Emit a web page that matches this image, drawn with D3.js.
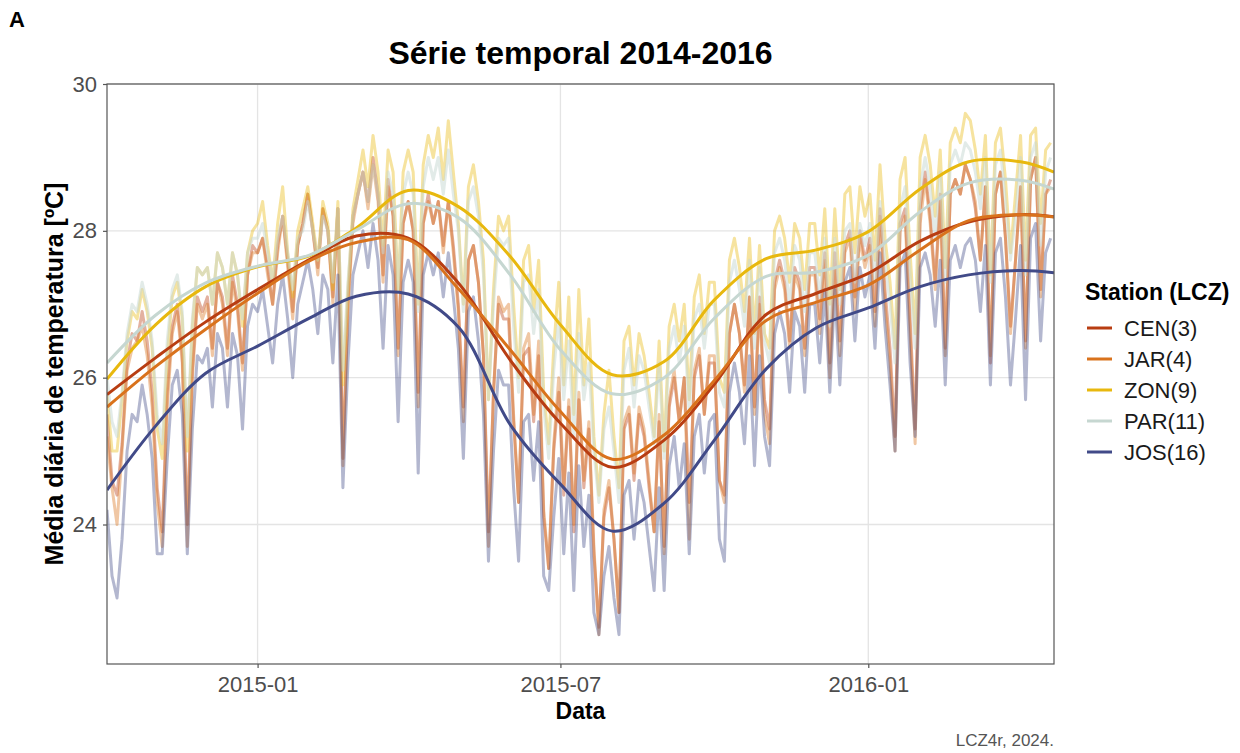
<!DOCTYPE html>
<html>
<head>
<meta charset="utf-8">
<script src="https://cdn.jsdelivr.net/npm/d3@7"></script>
<style>
  body { margin: 0; background: #fff; }
  svg text { font-family: "Liberation Sans", Arial, Helvetica, sans-serif; }
</style>
</head>
<body>
<svg id="chart" width="1240" height="753"></svg>
<script>
// stations, colours follow the legend order
const stations = ["CEN(3)", "JAR(4)", "ZON(9)", "PAR(11)", "JOS(16)"];
const colors = ["#b83d12", "#d9721c", "#e8b80e", "#c6d7d1", "#414a88"];

// daily means sampled every 3 days from 2014-10-03
const rawStart = "2014-10-03";
const rawStep = 3;
const cenRaw = [25.5,24.6,24.4,25.1,26.2,26.6,26.5,26.9,26.5,25.8,
  24.5,23.9,25.8,26.7,27.0,26.3,24.0,26.1,27.1,26.9,
  27.1,26.4,27.3,27.1,26.4,27.4,27.0,26.2,27.4,27.8,
  27.7,27.9,27.5,27.0,27.8,28.2,27.6,26.9,27.8,28.1,
  28.5,28.0,27.5,28.3,28.0,27.1,28.3,24.9,27.0,28.2,
  28.5,28.8,28.4,29.0,28.5,27.4,28.7,28.2,26.4,28.1,
  28.4,28.0,25.8,28.1,28.5,28.1,28.4,27.8,28.4,27.8,
  27.0,25.6,27.6,27.8,27.3,26.3,23.9,25.8,27.0,26.8,
  26.8,25.4,24.3,26.3,26.4,25.4,26.3,24.1,23.4,25.0,
  25.8,24.4,25.6,23.9,25.7,24.5,25.3,23.6,22.6,24.1,24.5,
  23.8,22.8,25.3,25.5,24.6,25.5,25.2,24.5,23.9,25.4,
  23.7,25.6,26.0,25.4,26.0,24.3,26.0,26.3,25.5,26.2,
  26.2,24.6,24.4,26.6,27.0,26.6,25.9,27.1,25.6,27.1,
  25.7,25.3,27.3,27.6,27.3,26.5,27.5,27.3,26.4,27.5,
  27.5,26.8,27.7,26.2,27.7,26.5,27.8,28.0,27.1,28.0,27.6,
  27.9,26.9,28.3,27.2,26.4,25.2,28.1,28.3,26.8,25.3,
  28.3,28.8,28.2,27.3,28.5,26.4,28.5,28.7,28.5,28.9,
  28.7,28.3,27.6,28.6,26.2,28.5,28.8,27.9,26.7,27.6,
  28.6,26.5,28.7,29.0,27.2,28.5,28.7];
const jarRaw = [25.2,24.5,24.0,25.0,26.1,26.4,26.5,26.7,26.3,25.6,
  24.3,23.7,25.6,26.6,26.9,26.2,23.7,26.0,27.0,26.8,
  27.0,26.3,27.3,27.0,26.3,27.3,26.9,26.1,27.4,27.7,
  27.7,27.9,27.4,27.0,27.7,28.2,27.5,26.8,27.8,28.1,
  28.5,28.0,27.4,28.3,28.0,27.0,28.3,24.8,26.9,28.1,
  28.5,28.8,28.3,28.9,28.4,27.3,28.6,28.2,26.3,28.1,
  28.4,28.0,25.6,28.1,28.4,28.1,28.4,27.7,28.4,27.7,
  26.9,25.4,27.6,27.8,27.3,26.3,23.7,25.8,27.1,26.9,
  27.0,25.5,24.3,26.4,26.6,25.5,26.5,24.2,23.4,25.1,
  26.0,24.5,25.7,24.0,25.8,24.6,25.4,23.7,22.5,24.2,24.6,
  23.8,22.8,25.4,25.6,24.7,25.6,25.3,24.6,23.9,25.5,
  23.6,25.7,26.1,25.4,26.0,23.8,26.1,26.4,25.5,26.3,
  26.3,24.6,24.3,26.6,27.0,26.6,25.8,27.1,25.5,27.0,
  25.5,25.1,27.2,27.5,27.2,26.4,27.4,27.2,26.3,27.4,
  27.4,26.6,27.6,26.0,27.5,26.3,27.7,27.9,26.9,27.9,27.5,
  27.8,26.7,28.2,27.0,26.2,25.0,28.0,28.2,26.6,25.1,
  28.1,28.7,28.1,27.2,28.4,26.3,28.5,28.7,28.5,28.9,
  28.7,28.4,27.6,28.6,26.3,28.5,28.8,27.9,26.6,27.6,
  28.6,26.4,28.7,29.0,27.1,28.5,28.6];
const zonRaw = [25.8,25.0,25.0,25.7,26.5,26.9,26.8,27.2,26.9,26.4,
  25.3,24.9,26.3,27.1,27.3,26.8,25.0,26.7,27.5,27.4,
  27.5,27.0,27.7,27.5,27.0,27.7,27.4,26.7,27.7,28.0,
  28.1,28.4,27.8,27.3,28.1,28.6,27.7,27.1,28.0,28.3,
  28.6,28.1,27.6,28.4,28.1,27.2,28.4,25.9,27.2,28.3,
  28.7,29.1,28.6,29.3,28.8,27.8,29.1,28.8,27.2,28.8,
  29.1,28.8,27.0,28.9,29.3,29.0,29.4,28.7,29.5,28.8,
  28.1,27.0,28.6,28.9,28.4,27.6,25.7,27.2,28.2,28.0,
  28.2,27.0,26.0,27.6,27.8,26.9,27.6,25.8,25.1,26.4,
  27.3,25.9,27.1,25.5,27.2,25.9,26.8,25.2,24.4,25.5,26.1,
  25.2,24.5,26.5,26.7,25.9,26.6,26.3,25.8,25.2,26.5,
  25.0,26.7,27.0,26.5,27.0,25.7,27.1,27.4,26.6,27.3,
  27.3,26.0,25.8,27.6,27.9,27.5,26.9,27.9,26.6,27.8,
  26.6,26.4,28.0,28.2,27.9,27.3,28.1,27.9,27.2,28.1,
  28.1,27.4,28.3,27.0,28.3,27.2,28.5,28.6,27.7,28.6,28.2,
  28.5,27.6,28.9,27.9,27.3,26.4,28.7,29.0,27.7,26.6,
  29.0,29.3,28.9,28.2,29.1,27.5,29.2,29.4,29.2,29.6,
  29.5,29.1,28.5,29.3,27.4,29.2,29.4,28.7,27.7,28.5,
  29.3,27.6,29.3,29.4,28.1,29.1,29.2];
const parRaw = [26.0,25.4,25.2,25.8,26.6,27.0,26.9,27.3,27.0,26.5,
  25.5,25.1,26.5,27.2,27.4,26.9,25.2,26.8,27.5,27.4,
  27.5,27.0,27.7,27.5,27.0,27.7,27.4,26.8,27.7,27.9,
  27.9,28.1,27.7,27.3,27.9,28.2,27.7,27.2,27.9,28.0,
  28.4,28.0,27.6,28.2,28.0,27.3,28.3,26.1,27.3,28.2,
  28.5,28.8,28.4,28.9,28.5,27.7,28.8,28.5,27.2,28.5,
  28.8,28.5,26.9,28.6,29.0,28.7,29.0,28.5,29.1,28.5,
  28.0,26.9,28.4,28.6,28.2,27.4,25.7,27.0,27.9,27.8,
  27.9,26.7,25.8,27.3,27.4,26.6,27.2,25.6,24.9,26.1,
  26.8,25.7,26.5,25.2,26.6,25.7,26.2,25.0,24.3,25.3,25.6,
  25.0,24.3,26.1,26.4,25.6,26.3,26.1,25.6,25.1,26.2,
  24.9,26.4,26.7,26.2,26.7,25.5,26.8,27.0,26.4,27.0,
  27.0,25.8,25.6,27.3,27.6,27.2,26.7,27.6,26.4,27.5,
  26.5,26.2,27.7,27.9,27.6,27.0,27.8,27.6,26.9,27.7,
  27.7,27.1,27.9,26.7,27.9,27.0,28.0,28.1,27.3,28.1,27.8,
  28.1,27.3,28.4,27.6,27.0,26.2,28.3,28.6,27.4,26.4,
  28.6,29.0,28.6,27.9,28.8,27.3,28.9,29.1,28.9,29.2,
  29.1,28.8,28.3,29.0,27.3,28.9,29.1,28.4,27.6,28.2,
  29.0,27.4,29.0,29.2,27.8,28.8,29.0];
const josRaw = [24.2,23.3,23.0,23.8,25.0,25.5,25.4,25.9,25.5,24.9,
  23.6,23.6,24.9,25.9,26.1,25.5,23.6,25.3,26.3,26.2,
  26.4,25.6,26.6,26.4,25.6,26.6,26.3,25.3,26.7,27.0,
  26.9,27.2,26.7,26.2,27.0,27.4,26.8,26.0,27.0,27.3,
  27.6,27.2,26.6,27.4,27.2,26.2,27.4,24.5,26.2,27.4,
  27.7,28.0,27.5,28.1,27.6,26.4,27.8,27.4,25.4,27.3,
  27.6,27.3,24.7,27.4,27.7,27.4,27.7,27.1,27.7,27.1,
  26.4,24.9,26.9,27.1,26.5,25.5,23.5,25.0,26.1,25.9,
  25.9,24.5,23.5,25.4,25.5,24.6,25.4,23.3,23.1,24.1,
  24.9,23.6,24.7,23.1,24.8,23.7,24.4,22.8,22.5,23.3,23.7,
  23.0,22.5,24.4,24.6,23.8,24.6,24.3,23.7,23.1,24.5,
  23.1,24.8,25.2,24.5,25.1,23.6,25.2,25.5,24.7,25.4,
  25.5,23.8,23.5,25.8,26.2,25.8,25.1,26.3,24.8,26.3,
  25.2,24.8,26.6,26.9,26.6,25.8,26.9,26.7,25.8,27.0,
  27.0,26.2,27.2,25.8,27.2,25.9,27.3,27.5,26.5,27.5,27.1,
  27.4,26.4,27.7,26.7,25.9,25.0,27.5,27.7,26.2,25.2,
  27.5,27.7,27.4,26.7,27.6,25.9,27.6,27.8,27.5,27.8,
  27.9,27.6,26.9,27.8,25.9,27.7,27.9,27.1,25.9,26.8,
  27.8,25.7,27.9,28.1,26.5,27.7,27.9];

// smoothed trend read at month starts
const smoothDates = ["2014-10-03","2014-11-01","2014-12-01","2015-01-01","2015-02-01","2015-03-01",
  "2015-04-01","2015-05-01","2015-06-01","2015-07-01","2015-08-01","2015-09-01","2015-10-01",
  "2015-11-01","2015-12-01","2016-01-01","2016-02-01","2016-03-01","2016-04-01","2016-04-21"];
const cenSmooth = [25.77,26.27,26.76,27.20,27.61,27.93,27.90,27.29,26.24,25.38,24.78,25.15,25.91,26.86,27.15,27.42,27.86,28.12,28.22,28.19];
const jarSmooth = [25.60,26.15,26.66,27.15,27.59,27.84,27.88,27.21,26.38,25.54,24.89,25.22,25.96,26.78,27.03,27.26,27.74,28.14,28.22,28.19];
const zonSmooth = [25.98,26.72,27.24,27.51,27.66,28.04,28.55,28.33,27.65,26.72,26.04,26.22,27.06,27.62,27.74,27.99,28.57,28.94,28.94,28.80];
const parSmooth = [26.20,26.85,27.29,27.52,27.67,28.01,28.37,28.18,27.40,26.38,25.78,26.00,26.81,27.38,27.44,27.67,28.26,28.65,28.69,28.57];
const josSmooth = [24.47,25.34,26.06,26.43,26.81,27.11,27.14,26.69,25.36,24.55,23.91,24.29,25.15,26.12,26.68,26.95,27.24,27.40,27.46,27.43];

const yTicks = [24, 26, 28, 30];
const xTicks = ["2015-01-01", "2015-07-01", "2016-01-01"];
const xDomain = ["2014-10-03", "2016-04-21"];
const yDomain = [22.1, 30];

const rawSeries = [cenRaw, jarRaw, zonRaw, parRaw, josRaw];
const smoothSeries = [cenSmooth, jarSmooth, zonSmooth, parSmooth, josSmooth];

const parse = d3.timeParse("%Y-%m-%d");
const svg = d3.select("#chart");
const margin = {top: 84, right: 186, bottom: 89, left: 107};
const W = 1240, H = 753;

const x = d3.scaleTime().domain(xDomain.map(parse)).range([margin.left, W - margin.right]);
const y = d3.scaleLinear().domain(yDomain).range([H - margin.bottom, margin.top]);

// clip
svg.append("clipPath").attr("id", "clip").append("rect")
  .attr("x", margin.left).attr("y", margin.top)
  .attr("width", W - margin.left - margin.right).attr("height", H - margin.top - margin.bottom);

// grid
const grid = svg.append("g");
grid.selectAll(".gy").data(yTicks).enter().append("line")
  .attr("x1", margin.left).attr("x2", W - margin.right)
  .attr("y1", d => y(d)).attr("y2", d => y(d))
  .attr("stroke", "#e4e4e4").attr("stroke-width", 1.3);
grid.selectAll(".gx").data(xTicks).enter().append("line")
  .attr("x1", d => x(parse(d))).attr("x2", d => x(parse(d)))
  .attr("y1", margin.top).attr("y2", H - margin.bottom)
  .attr("stroke", "#e4e4e4").attr("stroke-width", 1.3);

const plot = svg.append("g").attr("clip-path", "url(#clip)");
const start = parse(rawStart);

const rawLine = d3.line()
  .x((d, i) => x(d3.timeDay.offset(start, i * rawStep)))
  .y(d => y(d));

rawSeries.forEach((s, k) => {
  plot.append("path").datum(s)
    .attr("d", rawLine)
    .attr("fill", "none")
    .attr("stroke", colors[k])
    .attr("stroke-opacity", k == 3 ? 0.5 : 0.4)
    .attr("stroke-width", 3)
    .attr("stroke-linejoin", "round");
});

const smoothLine = d3.line()
  .curve(d3.curveCatmullRom.alpha(0.5))
  .x((d, i) => x(parse(smoothDates[i])))
  .y(d => y(d));

smoothSeries.forEach((s, k) => {
  plot.append("path").datum(s)
    .attr("d", smoothLine)
    .attr("fill", "none")
    .attr("stroke", colors[k])
    .attr("stroke-width", 3);
});

// panel border
svg.append("rect")
  .attr("x", margin.left).attr("y", margin.top)
  .attr("width", W - margin.left - margin.right).attr("height", H - margin.top - margin.bottom)
  .attr("fill", "none").attr("stroke", "#555").attr("stroke-width", 1.2);

// axes
const xAxis = svg.append("g")
  .attr("transform", "translate(0," + (H - margin.bottom) + ")")
  .call(d3.axisBottom(x).tickValues(xTicks.map(parse)).tickFormat(d3.timeFormat("%Y-%m")).tickSizeOuter(0).tickSize(4).tickPadding(8));
const yAxis = svg.append("g")
  .attr("transform", "translate(" + margin.left + ",0)")
  .call(d3.axisLeft(y).tickValues(yTicks).tickSizeOuter(0).tickSize(4).tickPadding(6));
[xAxis, yAxis].forEach(a => {
  a.select(".domain").remove();
  a.selectAll(".tick line").attr("stroke", "#555").attr("stroke-width", 1.2);
  a.selectAll(".tick text").attr("fill", "#4d4d4d").attr("font-size", 22)
    .style("font-family", "'Liberation Sans', Arial, sans-serif");
});

// titles
svg.append("text").attr("x", 9).attr("y", 27).text("A")
  .attr("font-size", 22).attr("font-weight", "bold");
svg.append("text").attr("x", (margin.left + W - margin.right) / 2).attr("y", 64)
  .attr("text-anchor", "middle").attr("font-size", 32).attr("font-weight", "bold")
  .text("Série temporal 2014-2016");
svg.append("text").attr("x", (margin.left + W - margin.right) / 2).attr("y", 719)
  .attr("text-anchor", "middle").attr("font-size", 23).attr("font-weight", "bold")
  .text("Data");
svg.append("text")
  .attr("transform", "translate(63," + ((margin.top + H - margin.bottom) / 2) + ") rotate(-90)")
  .attr("text-anchor", "middle").attr("font-size", 25).attr("font-weight", "bold")
  .text("Média diária de temperatura [ºC]");
svg.append("text").attr("x", W - margin.right).attr("y", 746)
  .attr("text-anchor", "end").attr("font-size", 17).attr("fill", "#555")
  .text("LCZ4r, 2024.");

// legend
const leg = svg.append("g").attr("transform", "translate(1085,0)");
leg.append("text").attr("x", 0).attr("y", 300).attr("font-size", 23).attr("font-weight", "bold")
  .text("Station (LCZ)");
const items = leg.selectAll(".item").data(stations).enter().append("g")
  .attr("transform", (d, i) => "translate(0," + (328 + i * 31) + ")");
items.append("line").attr("x1", 2).attr("x2", 27).attr("y1", 0).attr("y2", 0)
  .attr("stroke", (d, i) => colors[i]).attr("stroke-width", 3);
items.append("text").attr("x", 39).attr("y", 8).attr("font-size", 22).attr("fill", "#1a1a1a")
  .text(d => d);
</script>
</body>
</html>
